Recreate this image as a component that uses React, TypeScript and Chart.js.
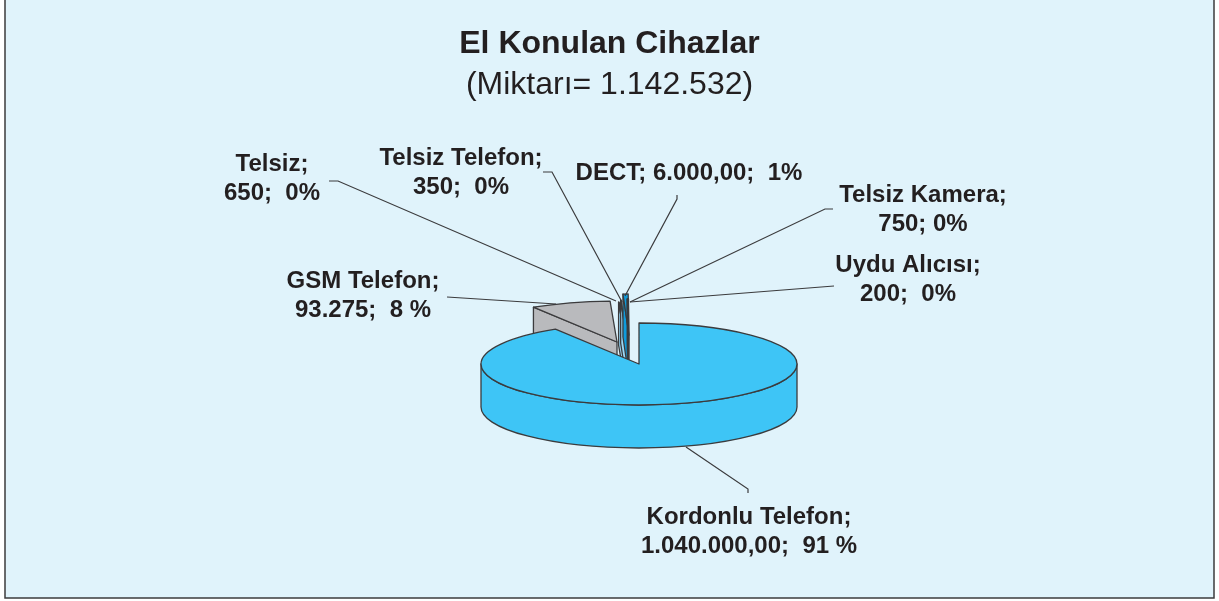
import React, { useEffect, useRef } from "react";
import { Chart, registerables } from "chart.js";

Chart.register(...registerables);

const categories = ["Kordonlu Telefon", "GSM Telefon", "Telsiz", "Telsiz Telefon", "DECT", "Telsiz Kamera", "Uydu Alıcısı"];
const values = [1040000, 93275, 650, 350, 6000, 750, 200];
const titleText = "El Konulan Cihazlar";
const subtitleText = "(Miktarı= 1.142.532)";
const sliceColors = ["#3ec5f6", "#b9babd", "#9bd8f6", "#9bd8f6", "#0f9bdc", "#2f8fc4", "#2f8fc4"];

const labelLines = [
  ["Kordonlu Telefon;", "1.040.000,00;  91 %"],
  ["GSM Telefon;", "93.275;  8 %"],
  ["Telsiz;", "650;  0%"],
  ["Telsiz Telefon;", "350;  0%"],
  ["DECT; 6.000,00;  1%"],
  ["Telsiz Kamera;", "750; 0%"],
  ["Uydu Alıcısı;", "200;  0%"],
];

// layout only
const W = 1219, H = 601;
const CX = 639, CY = 364, R = 158, RY = 41, DEPTH = 43;
const LINE = "#3b3b3d", TEXT = "#231f20";
const explode = [[0, 0], [-22, -22], [-13.5, -21], [-12, -23], [-10, -29], [-11, -24], [-10.5, -24]];
const paintOrder = [1, 2, 3, 4, 5, 6, 0];
const labelPos = [[749, 516], [363, 280], [272, 163], [461, 157], [689, 172], [923, 194], [908, 264]];
const leaders = [
  [[748, 493], [748, 489], [686, 447]],
  [[447, 297], [556, 304]],
  [[329, 181], [338, 181], [616, 301]],
  [[543, 172], [552, 172], [622, 302]],
  [[677, 195], [677, 199], [625, 296]],
  [[833, 209], [825, 209], [630, 302]],
  [[834, 286], [630, 302]],
];

const piePlugin = {
  id: "tiltedPie",
  beforeDraw(chart: any) {
    const { ctx } = chart;
    ctx.save();
    ctx.fillStyle = "#ffffff";
    ctx.fillRect(0, 0, W, H);
    ctx.fillStyle = "#e0f3fb";
    ctx.fillRect(5, -3, 1209, 601);
    ctx.strokeStyle = LINE;
    ctx.lineWidth = 1.5;
    ctx.strokeRect(5, -3, 1209, 601);
    ctx.restore();
  },
  beforeDatasetsDraw(chart: any) {
    const { ctx } = chart;
    const arcs = chart.getDatasetMeta(0).data;
    const k = RY / R;
    for (const i of paintOrder) {
      const el = arcs[i];
      const [dx, dy] = explode[i];
      const ax = CX + dx, ay = CY + dy;
      const a0 = el.startAngle, a1 = el.endAngle;
      const color = sliceColors[i];
      const px = (a: number) => ax + R * Math.cos(a);
      const py = (a: number) => ay + RY * Math.sin(a);
      ctx.save();
      ctx.lineWidth = 1.3;
      ctx.lineJoin = "round";
      ctx.strokeStyle = LINE;
      ctx.fillStyle = color;
      // the cut faces that turn towards the viewer
      const faces: number[] = [];
      if (Math.cos(a0) < -1e-6) faces.push(a0);
      if (Math.cos(a1) > 1e-6) faces.push(a1);
      for (const a of faces) {
        ctx.beginPath();
        ctx.moveTo(ax, ay);
        ctx.lineTo(px(a), py(a));
        ctx.lineTo(px(a), py(a) + DEPTH);
        ctx.lineTo(ax, ay + DEPTH);
        ctx.closePath();
        ctx.fill();
        ctx.stroke();
      }
      // the visible outer wall, front half only
      const from = Math.max(a0, 0), to = Math.min(a1, Math.PI);
      if (to > from) {
        ctx.beginPath();
        ctx.ellipse(ax, ay, R, RY, 0, from, to);
        ctx.lineTo(px(to), py(to) + DEPTH);
        ctx.ellipse(ax, ay + DEPTH, R, RY, 0, to, from, true);
        ctx.closePath();
        ctx.fill();
        ctx.stroke();
      }
      // the slice's top, drawn by the arc element itself
      ctx.save();
      ctx.translate(ax, ay);
      ctx.scale(1, k);
      ctx.translate(-el.x, -el.y);
      el.draw(ctx);
      ctx.restore();
      // outline of the top with an even line width
      ctx.beginPath();
      ctx.moveTo(ax, ay);
      ctx.ellipse(ax, ay, R, RY, 0, a0, a1);
      ctx.closePath();
      ctx.stroke();
      ctx.restore();
    }
    return false;
  },
  afterDraw(chart: any) {
    const { ctx } = chart;
    ctx.save();
    ctx.strokeStyle = LINE;
    ctx.lineWidth = 1.2;
    for (const pts of leaders) {
      ctx.beginPath();
      pts.forEach(([x, y], j) => (j ? ctx.lineTo(x, y) : ctx.moveTo(x, y)));
      ctx.stroke();
    }
    ctx.fillStyle = TEXT;
    ctx.font = 'bold 24px "Liberation Sans"';
    ctx.textAlign = "center";
    ctx.textBaseline = "alphabetic";
    labelLines.forEach((lines, i) => {
      const [x, y] = labelPos[i];
      lines.forEach((t, j) => ctx.fillText(t, x, y + 8 + j * 29));
    });
    ctx.restore();
  },
};

export default function App() {
  const ref = useRef<HTMLCanvasElement>(null);
  useEffect(() => {
    const chart = new Chart(ref.current as HTMLCanvasElement, {
      type: "pie",
      data: {
        labels: categories,
        datasets: [{ data: values, backgroundColor: sliceColors, borderWidth: 0 }],
      },
      options: {
        animation: false,
        responsive: false,
        radius: R,
        plugins: {
          legend: { display: false },
          tooltip: { enabled: false },
          title: {
            display: true,
            text: titleText,
            color: TEXT,
            font: { family: '"Liberation Sans"', size: 32, weight: "bold" },
            padding: { top: 25, bottom: 3 },
          },
          subtitle: {
            display: true,
            text: subtitleText,
            color: TEXT,
            font: { family: '"Liberation Sans"', size: 32, weight: "normal" },
            padding: { top: 0, bottom: 4 },
          },
        },
      } as any,
      plugins: [piePlugin as any],
    });
    return () => chart.destroy();
  }, []);
  return (
    <div style={{ position: "fixed", left: 0, top: 0, width: W, height: H }}>
      <canvas ref={ref} width={W} height={H} style={{ display: "block" }} />
    </div>
  );
}
